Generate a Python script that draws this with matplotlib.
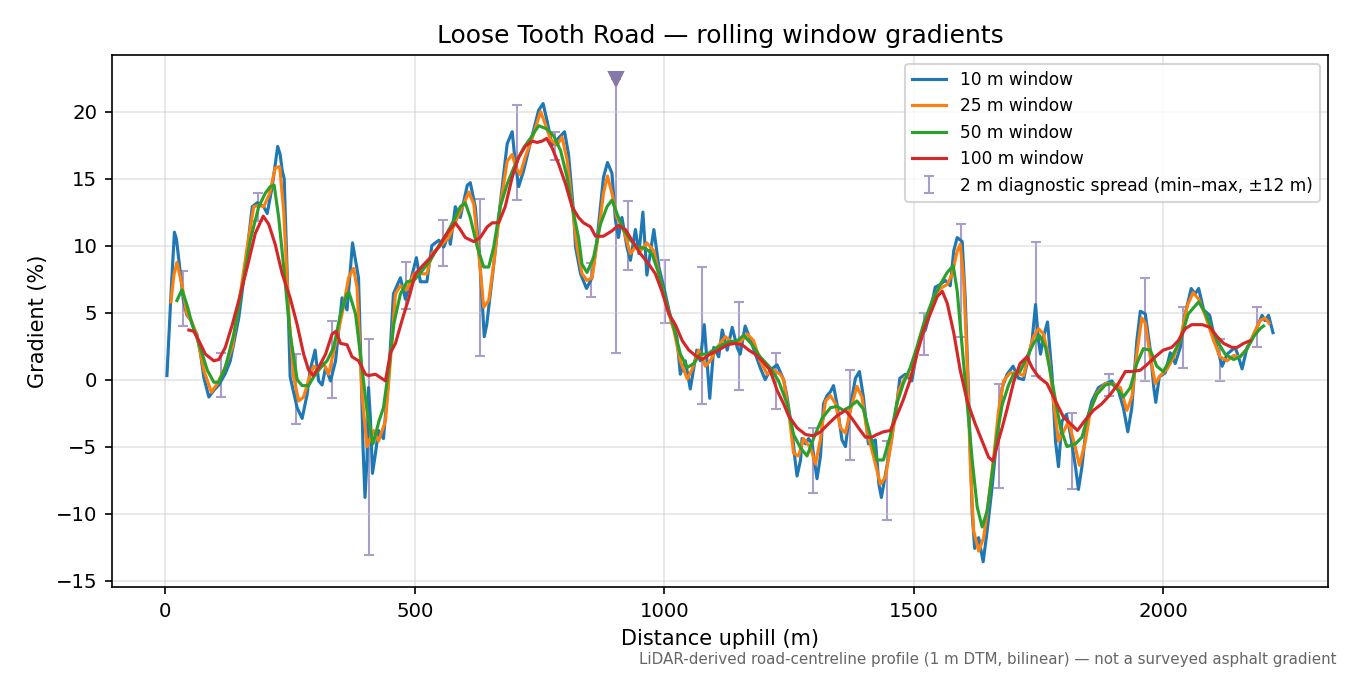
import matplotlib
matplotlib.use("Agg")
import numpy as np
import matplotlib.pyplot as plt

# distance uphill (m) and gradient (%), one pair list per window
d10 = [3, 12, 18, 22, 27, 36, 43, 50, 57, 63, 70, 77, 87, 97, 107, 120, 130, 147, 160, 174,
       184, 197, 204, 214, 225, 230, 234, 238, 244, 250, 264, 274, 284, 290, 300, 307, 314, 321, 331, 341,
       354, 364, 375, 387, 392, 396, 400, 404, 407, 411, 415, 421, 427, 437, 447, 457, 471, 481, 491, 503,
       511, 524, 534, 548, 558, 568, 571, 581, 591, 605, 611, 621, 631, 639, 644, 655, 661, 671, 685, 695,
       701, 708, 718, 731, 748, 757, 765, 775, 785, 800, 808, 818, 822, 832, 844, 855, 865, 878, 886, 895,
       902, 908, 915, 925, 932, 942, 949, 957, 965, 979, 989, 1002, 1015, 1025, 1032, 1042, 1052, 1065, 1072, 1080,
       1091, 1099, 1109, 1116, 1126, 1136, 1146, 1152, 1162, 1176, 1192, 1202, 1212, 1226, 1239, 1246, 1256, 1262, 1266, 1273,
       1276, 1283, 1289, 1296, 1306, 1313, 1319, 1326, 1333, 1339, 1346, 1356, 1363, 1373, 1383, 1391, 1399, 1409, 1423, 1430,
       1435, 1443, 1453, 1466, 1472, 1483, 1496, 1503, 1513, 1523, 1533, 1543, 1553, 1563, 1573, 1580, 1587, 1597, 1603, 1610,
       1617, 1622, 1630, 1639, 1647, 1657, 1667, 1677, 1687, 1699, 1710, 1720, 1728, 1737, 1744, 1750, 1754, 1760, 1768, 1777,
       1784, 1790, 1797, 1806, 1814, 1824, 1830, 1837, 1847, 1857, 1870, 1884, 1897, 1910, 1920, 1929, 1937, 1947, 1954, 1964,
       1974, 1981, 1985, 1992, 2004, 2014, 2024, 2034, 2044, 2056, 2064, 2071, 2081, 2093, 2104, 2118, 2128, 2144, 2149, 2158,
       2168, 2178, 2188, 2198, 2204, 2211, 2220]
g10 = [0.3, 7.0, 11.0, 10.5, 8.9, 5.9, 4.8, 4.5, 3.8, 3.4, 2.0, 0.15, -1.3, -0.8, -0.4, 0.45, 1.4, 4.6, 8.4, 12.9,
       13.2, 12.9, 12.4, 14.4, 17.4, 16.8, 15.6, 15.0, 8.0, 0.2, -2.1, -2.9, -1.1, 0.7, 2.2, -0.1, -0.4, 0.9, -0.1, 1.4,
       6.1, 5.2, 10.2, 7.6, 1.0, -5.0, -8.8, -6.0, -0.6, -3.0, -7.0, -5.5, -3.8, -4.4, -0.1, 6.4, 7.6, 6.0, 7.3, 9.1,
       7.3, 7.3, 10.0, 10.4, 9.9, 10.9, 10.1, 12.9, 12.1, 14.5, 14.7, 12.9, 8.4, 3.2, 4.1, 7.6, 9.6, 13.1, 17.6, 18.5,
       16.3, 14.4, 15.6, 17.6, 20.1, 20.6, 19.3, 17.5, 17.9, 18.5, 16.8, 12.5, 9.9, 7.9, 6.8, 7.6, 10.4, 15.1, 16.2, 15.4,
       11.9, 10.6, 12.1, 9.9, 8.9, 11.2, 9.4, 12.5, 7.8, 11.2, 8.4, 6.4, 4.2, 3.2, 0.4, 1.4, -0.7, 2.2, 1.4, 4.1,
       -1.4, 2.4, 1.7, 3.7, 2.2, 3.9, 2.4, 1.9, 4.0, 2.6, 0.9, 0.0, 0.7, 1.1, 0.0, -1.3, -3.8, -6.0, -7.2, -6.0,
       -4.4, -4.8, -4.4, -4.8, -7.4, -5.7, -1.8, -1.2, -0.9, -0.45, -1.8, -4.5, -5.0, -2.0, 0.1, 0.6, -1.3, -4.8, -4.5, -7.8,
       -8.8, -7.1, -5.0, -1.8, 0.1, 0.4, -0.1, 1.4, 3.2, 3.7, 5.1, 6.9, 7.1, 7.4, 7.0, 9.6, 10.6, 10.3, 6.1, -1.3,
       -10.0, -12.6, -11.8, -13.6, -11.3, -8.0, -4.1, -0.6, 0.4, 1.0, 0.1, 0.0, 1.4, 2.9, 5.6, 2.9, 1.9, 3.2, 4.3, 0.4,
       -4.6, -6.5, -3.1, -2.6, -4.1, -6.5, -8.2, -6.5, -3.1, -1.6, -0.6, -0.3, -0.1, -0.8, -2.1, -3.9, -2.1, 2.9, 5.1, 4.9,
       2.2, -0.6, -1.7, 0.2, 0.5, 2.0, 1.2, 2.4, 4.9, 6.8, 6.4, 6.8, 5.2, 4.8, 2.9, 1.0, 1.9, 2.4, 1.9, 0.8,
       2.4, 3.0, 3.9, 4.8, 4.4, 4.8, 3.5]

d25 = [11, 17, 23, 33, 43, 53, 63, 77, 92, 104, 117, 134, 150, 164, 177, 187, 197, 209, 220, 229,
       237, 247, 257, 267, 277, 287, 297, 307, 317, 327, 341, 354, 367, 377, 384, 394, 404, 417, 427, 441,
       451, 461, 471, 484, 498, 514, 524, 534, 551, 568, 585, 598, 608, 618, 628, 638, 648, 658, 671, 685,
       695, 703, 711, 721, 735, 752, 762, 772, 785, 795, 805, 818, 825, 835, 845, 855, 868, 878, 886, 895,
       905, 918, 932, 942, 952, 965, 979, 989, 1005, 1019, 1032, 1046, 1056, 1069, 1082, 1092, 1106, 1122, 1139, 1152,
       1166, 1179, 1192, 1206, 1219, 1232, 1239, 1249, 1259, 1269, 1279, 1293, 1303, 1313, 1323, 1333, 1343, 1353, 1363, 1373,
       1386, 1396, 1406, 1419, 1433, 1443, 1456, 1470, 1483, 1496, 1506, 1520, 1533, 1543, 1553, 1567, 1577, 1587, 1593, 1600,
       1607, 1613, 1620, 1630, 1640, 1650, 1660, 1670, 1680, 1693, 1707, 1720, 1730, 1740, 1750, 1760, 1770, 1780, 1790, 1800,
       1810, 1824, 1832, 1844, 1854, 1867, 1884, 1900, 1914, 1927, 1937, 1947, 1957, 1964, 1974, 1984, 1994, 2008, 2021, 2034,
       2048, 2060, 2071, 2084, 2101, 2114, 2128, 2141, 2154, 2168, 2181, 2194, 2204, 2212]
g25 = [5.8, 7.8, 8.75, 7.1, 4.9, 4.3, 3.3, 0.7, -0.95, -0.3, 0.7, 2.4, 6.4, 9.9, 12.9, 13.0, 12.9, 13.9, 15.8, 15.9,
       12.6, 5.1, 0.2, -1.6, -1.3, 0.0, 1.0, 0.7, 1.2, 0.4, 2.7, 4.9, 7.6, 8.3, 6.9, -1.1, -5.0, -3.8, -4.6, -3.1,
       1.4, 6.4, 7.0, 6.7, 7.9, 7.9, 7.9, 9.4, 10.0, 10.6, 12.1, 13.1, 14.0, 13.1, 9.4, 5.4, 5.9, 8.6, 12.9, 16.3,
       16.8, 15.8, 15.3, 16.6, 18.0, 20.0, 19.0, 17.9, 17.5, 18.1, 16.4, 12.1, 9.9, 7.9, 7.4, 7.6, 10.9, 13.9, 15.2, 13.9,
       12.1, 11.2, 9.4, 9.9, 9.6, 10.2, 9.6, 7.9, 5.4, 3.7, 1.4, 0.05, 0.8, 2.2, 1.0, 1.4, 2.4, 3.2, 2.7, 2.8,
       3.4, 2.9, 1.4, 0.4, 0.7, 0.4, 0.0, -2.3, -5.5, -5.7, -4.4, -5.1, -6.3, -4.4, -1.6, -1.2, -1.8, -3.6, -4.0, -2.3,
       -0.5, -1.3, -3.8, -5.7, -7.8, -7.3, -4.4, -0.8, 0.2, 0.4, 1.9, 3.7, 5.3, 6.4, 6.8, 7.1, 7.9, 9.6, 10.1, 7.4,
       1.2, -6.0, -11.3, -12.8, -11.8, -9.0, -5.8, -2.3, -0.1, 0.5, 0.5, 0.3, 1.9, 3.2, 3.8, 3.4, 1.7, -1.6, -4.6, -3.9,
       -3.1, -5.1, -6.4, -4.6, -2.3, -1.0, -0.3, -0.3, -0.6, -2.3, -1.3, 1.9, 4.6, 4.2, 1.7, -0.3, 0.3, 0.8, 1.7, 3.0,
       5.5, 6.5, 6.0, 4.8, 2.9, 1.7, 1.4, 1.8, 1.7, 2.3, 3.4, 4.4, 4.6, 4.2]

d50 = [23, 33, 43, 53, 67, 84, 97, 107, 120, 137, 154, 170, 187, 200, 210, 218, 227, 237, 250, 264,
       274, 287, 297, 311, 324, 337, 351, 364, 368, 381, 391, 404, 416, 428, 437, 448, 458, 471, 484, 498,
       514, 531, 548, 564, 581, 591, 601, 611, 625, 638, 648, 658, 671, 685, 698, 718, 735, 748, 765, 778,
       792, 805, 818, 828, 835, 845, 858, 872, 885, 895, 905, 918, 932, 945, 962, 975, 989, 1005, 1019, 1032,
       1046, 1059, 1072, 1086, 1106, 1126, 1146, 1159, 1176, 1192, 1212, 1229, 1246, 1259, 1273, 1286, 1299, 1316, 1333, 1346,
       1359, 1373, 1386, 1399, 1413, 1426, 1439, 1453, 1466, 1479, 1493, 1506, 1520, 1537, 1553, 1567, 1579, 1587, 1597, 1607,
       1617, 1627, 1637, 1647, 1657, 1667, 1677, 1690, 1700, 1713, 1727, 1740, 1752, 1764, 1777, 1794, 1807, 1824, 1837, 1850,
       1867, 1884, 1897, 1910, 1920, 1934, 1947, 1960, 1974, 1987, 2000, 2017, 2034, 2050, 2071, 2084, 2098, 2111, 2124, 2141,
       2154, 2168, 2181, 2194, 2201]
g50 = [5.9, 6.7, 5.6, 4.2, 2.7, 0.7, -0.2, -0.2, 0.9, 3.4, 6.9, 10.4, 12.9, 13.9, 14.4, 14.5, 12.1, 8.4, 3.4, 0.0,
       -0.45, -0.45, 0.2, 0.9, 1.4, 2.4, 4.9, 6.4, 6.5, 4.9, 1.8, -2.3, -4.8, -3.1, -2.1, 0.9, 4.2, 6.4, 7.3, 7.4,
       8.1, 8.9, 10.0, 10.9, 12.1, 12.9, 13.2, 12.1, 9.9, 8.4, 8.4, 9.9, 12.9, 14.6, 15.8, 17.3, 18.2, 18.95, 18.7, 18.2,
       17.1, 15.1, 12.4, 10.6, 8.6, 8.0, 9.1, 11.6, 12.9, 13.4, 12.4, 11.2, 10.4, 9.9, 9.8, 9.4, 7.9, 5.6, 3.9, 1.9,
       0.9, 1.2, 1.9, 1.9, 2.4, 2.8, 2.9, 3.3, 2.6, 1.7, 0.9, -0.1, -1.8, -4.1, -5.1, -5.7, -4.4, -2.9, -2.1, -2.0,
       -2.3, -2.0, -1.6, -2.2, -4.2, -6.0, -6.0, -4.2, -1.8, -0.3, 0.9, 2.4, 4.2, 5.9, 7.1, 8.0, 8.5, 6.6, 2.4, -1.8,
       -6.0, -9.5, -11.0, -9.8, -7.0, -4.1, -1.9, -0.4, 0.4, 0.6, 1.7, 2.7, 3.3, 2.4, -0.1, -3.6, -5.0, -4.8, -4.3, -2.6,
       -1.1, -0.4, -0.3, -0.8, -1.3, -0.6, 1.2, 2.3, 2.2, 1.0, 0.6, 1.7, 2.9, 4.9, 5.8, 5.0, 3.7, 2.7, 1.9, 1.5,
       1.7, 2.3, 3.2, 3.8, 4.0]

d100 = [47, 57, 67, 80, 97, 107, 120, 134, 147, 164, 180, 196, 207, 220, 234, 250, 264, 277, 287, 296,
        307, 321, 334, 342, 351, 364, 374, 387, 401, 407, 421, 441, 451, 461, 474, 488, 501, 518, 531, 548,
        564, 581, 591, 601, 618, 631, 645, 655, 668, 681, 695, 708, 721, 735, 745, 755, 764, 775, 788, 802,
        815, 828, 838, 852, 862, 878, 895, 908, 922, 935, 952, 969, 982, 995, 1009, 1022, 1036, 1049, 1062, 1076,
        1092, 1109, 1126, 1142, 1156, 1169, 1182, 1196, 1212, 1226, 1239, 1249, 1266, 1283, 1299, 1313, 1329, 1346, 1363, 1376,
        1389, 1403, 1416, 1426, 1439, 1453, 1466, 1479, 1493, 1506, 1520, 1533, 1547, 1557, 1567, 1580, 1593, 1607, 1623, 1637,
        1650, 1659, 1670, 1677, 1687, 1700, 1713, 1727, 1737, 1750, 1767, 1784, 1800, 1817, 1828, 1844, 1860, 1877, 1894, 1910,
        1924, 1937, 1954, 1967, 1984, 2000, 2017, 2030, 2044, 2057, 2078, 2094, 2108, 2121, 2138, 2148, 2161, 2174]
g100 = [3.7, 3.6, 2.9, 1.9, 1.4, 1.5, 2.4, 4.1, 5.9, 8.4, 10.9, 12.2, 11.6, 10.1, 7.9, 6.1, 4.1, 1.9, 0.7, 0.3,
        0.9, 1.9, 3.4, 3.6, 2.7, 2.6, 1.7, 1.4, 0.4, 0.3, 0.4, -0.1, 2.0, 2.7, 4.4, 6.1, 7.9, 8.6, 9.1, 9.9,
        10.9, 11.7, 11.2, 10.6, 10.3, 10.6, 11.4, 11.7, 11.7, 12.9, 15.1, 16.6, 17.4, 17.8, 17.7, 17.8, 18.0, 17.3, 16.1, 14.6,
        12.9, 12.1, 11.7, 11.4, 10.7, 10.7, 11.1, 11.5, 11.2, 10.4, 9.4, 8.6, 7.9, 6.6, 4.9, 4.1, 2.9, 2.2, 1.8, 1.5,
        1.9, 2.2, 2.6, 2.7, 2.6, 2.2, 1.9, 1.4, 0.7, -0.8, -1.8, -2.7, -3.6, -4.1, -4.2, -3.9, -3.3, -2.7, -2.3, -2.9,
        -3.6, -4.3, -4.3, -4.1, -3.9, -3.8, -2.7, -1.5, 0.0, 1.9, 3.7, 4.9, 6.2, 6.6, 5.7, 3.5, 0.7, -1.6, -3.3, -4.6,
        -5.8, -6.1, -4.5, -3.6, -2.2, -0.2, 1.2, 1.7, 0.9, 0.2, -0.3, -1.6, -2.8, -3.4, -3.8, -3.0, -2.3, -1.8, -1.1, -0.3,
        0.6, 0.6, 0.7, 1.1, 1.7, 2.2, 2.4, 2.9, 3.8, 4.1, 4.1, 3.9, 3.2, 2.7, 2.4, 2.4, 2.7, 2.9]

# 2 m diagnostic spread, min and max within +-12 m
spread_pos = [36, 112, 186, 261, 334, 409, 483, 556, 631, 705, 780, 853, 927, 1002, 1076,
              1150, 1224, 1298, 1373, 1446, 1520, 1595, 1670, 1744, 1817, 1892, 1964, 2039, 2113, 2187]
spread_lo = [4.0, -1.3, 11.8, -3.3, -1.4, -13.1, 5.3, 8.45, 1.75, 13.4, 16.4, 6.15, 8.2, 4.2, -1.8,
             -0.8, -2.2, -8.5, -6.0, -10.5, 1.8, 3.2, -8.1, 0.3, -8.2, -1.2, -0.1, 0.85, -0.1, 2.4]
spread_hi = [8.1, 2.0, 13.9, 1.9, 4.35, 3.0, 8.75, 11.9, 13.5, 20.5, 18.5, 8.7, 13.3, 8.9, 8.4,
             5.8, 1.95, -3.6, 0.7, -4.55, 4.95, 11.6, -0.3, 10.25, -2.5, 0.4, 7.6, 5.45, 3.0, 5.4]

# the widest spread, flagged with a triangle
peak_pos = 903
peak_lo = 1.95
peak_hi = 22.4

fig = plt.figure(figsize=(9, 4.5), dpi=150)
ax = fig.add_axes([0.083, 0.130, 0.901, 0.788])

bar_col = '#a99dc9'
lo = np.array(spread_lo)
hi = np.array(spread_hi)
mid = (lo + hi) / 2

ax.plot(d10, g10, color='#1f77b4', lw=1.5, label='10 m window', zorder=2)
ax.plot(d25, g25, color='#ff7f0e', lw=1.5, label='25 m window', zorder=3)
ax.plot(d50, g50, color='#2ca02c', lw=1.5, label='50 m window', zorder=4)
ax.plot(d100, g100, color='#d62728', lw=1.5, label='100 m window', zorder=5)

ax.errorbar(spread_pos, mid, yerr=(hi - lo) / 2, fmt='none', ecolor=bar_col,
            elinewidth=1.0, capsize=2.5, capthick=1.0, zorder=1,
            label='2 m diagnostic spread (min–max, ±12 m)')
ax.errorbar([peak_pos], [(peak_lo + peak_hi) / 2], yerr=[(peak_hi - peak_lo) / 2], fmt='none',
            ecolor=bar_col, elinewidth=1.0, capsize=2.5, capthick=1.0, zorder=1)
ax.plot([peak_pos], [peak_hi], marker='v', color='#8878a8', markersize=6.5, linestyle='none', zorder=6)

ax.set_xlim(-107, 2331)
ax.set_ylim(-15.5, 24.2)
ax.set_title('Loose Tooth Road — rolling window gradients', fontsize=12)
ax.set_xlabel('Distance uphill (m)', fontsize=10)
ax.set_ylabel('Gradient (%)', fontsize=10)
ax.tick_params(labelsize=9.5)
ax.grid(True, color='#cccccc', alpha=0.5, linewidth=0.8)

ax.legend(loc='upper right', fontsize=8.2)

fig.text(0.99, 0.012, 'LiDAR-derived road-centreline profile (1 m DTM, bilinear) — not a surveyed asphalt gradient',
         ha='right', va='bottom', fontsize=7.25, color='#666666')

fig.savefig('out.png', dpi=150)
